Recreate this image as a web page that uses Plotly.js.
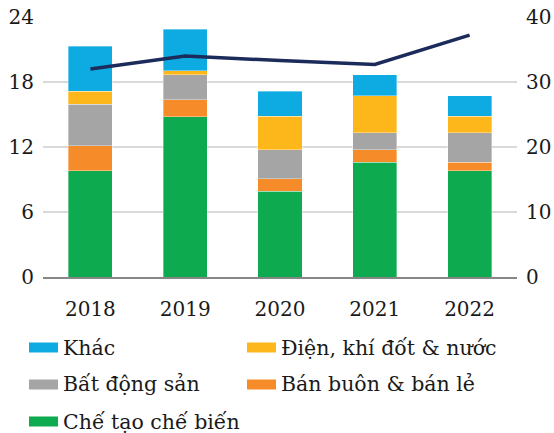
<!DOCTYPE html>
<html><head><meta charset="utf-8">
<script src="https://cdn.plot.ly/plotly-3.0.1.min.js"></script>
<style>html,body{margin:0;padding:0;background:#fff}#chart{width:554px;height:433px}</style>
</head><body><div id="chart"></div>
<script>
const years = ['2018','2019','2020','2021','2022'];
const cheTao   = [9.8, 14.8, 7.9, 10.6, 9.8];
const banBuon  = [2.3, 1.55, 1.15, 1.15, 0.8];
const batDong  = [3.85, 2.3, 2.7, 1.55, 2.7];
const dien     = [1.2, 0.4, 3.1, 3.45, 1.55];
const khac     = [4.15, 3.8, 2.3, 1.9, 1.9];
const lineVals = [32.0, 34.0, 33.3, 32.7, 37.2];

const seriesNames = ['Chế tạo chế biến','Bán buôn & bán lẻ','Bất động sản','Điện, khí đốt & nước','Khác'];
const seriesVals  = [cheTao, banBuon, batDong, dien, khac];
const seriesCols  = ['#0eaa4f','#f68b2a','#a5a5a5','#fdb71a','#0eabe3'];

const FONT = 'DejaVu Serif, serif';
const traces = seriesNames.map((n,i)=>({
  type:'bar', name:n, x:years, y:seriesVals[i],
  marker:{color:seriesCols[i], line:{color:'rgba(255,255,255,0.45)', width:0.8}},
  showlegend:false, hoverinfo:'skip'
}));
traces.push({
  type:'scatter', mode:'lines', x:years, y:lineVals, yaxis:'y2',
  line:{color:'#1b2c5b', width:3.5}, showlegend:false, hoverinfo:'skip'
});

// custom legend (two columns, row-wise, top series first)
const legendOrder = [4,3,2,1,0];
const shapes = [], annotations = [];
legendOrder.forEach((si,k)=>{
  const col = k%2, row = Math.floor(k/2);
  const x0 = col===0 ? 29 : 247;
  const yc = 347.5 + row*37;
  shapes.push({type:'rect', xref:'paper', yref:'paper',
    x0:(x0-43)/474, x1:(x0+29-43)/474,
    y0:(277-(yc-5))/260, y1:(277-(yc+5))/260,
    fillcolor:seriesCols[si], line:{width:0}});
  annotations.push({xref:'paper', yref:'paper', x:(x0+32-43)/474, y:(277-yc)/260,
    xanchor:'left', yanchor:'middle', showarrow:false, text:seriesNames[si],
    font:{family:FONT, size:20.5, color:'#1a1a1a'}});
});

const layout = {
  width:554, height:433,
  margin:{l:43, r:37, t:17, b:156},
  barmode:'stack', bargap:0.535,
  paper_bgcolor:'#fff', plot_bgcolor:'#fff',
  font:{family:FONT, size:20, color:'#1a1a1a'},
  xaxis:{type:'category', showgrid:false, showline:true, linecolor:'#878787', linewidth:2,
    ticks:'', tickfont:{family:FONT, size:20, color:'#1a1a1a'}, ticklabelstandoff:13},
  yaxis:{range:[0,24], dtick:6, tick0:0, showgrid:true, gridcolor:'#d9d9d9', gridwidth:1.3,
    zeroline:false, showline:false, ticks:'', ticklabelstandoff:8,
    tickfont:{family:FONT, size:20, color:'#1a1a1a'}},
  yaxis2:{range:[0,40], dtick:10, tick0:0, overlaying:'y', side:'right', showgrid:false,
    zeroline:false, showline:false, ticks:'', ticklabelstandoff:8,
    tickfont:{family:FONT, size:20, color:'#1a1a1a'}},
  shapes, annotations, showlegend:false
};
Plotly.newPlot('chart', traces, layout, {staticPlot:true, displayModeBar:false});
</script></body></html>
